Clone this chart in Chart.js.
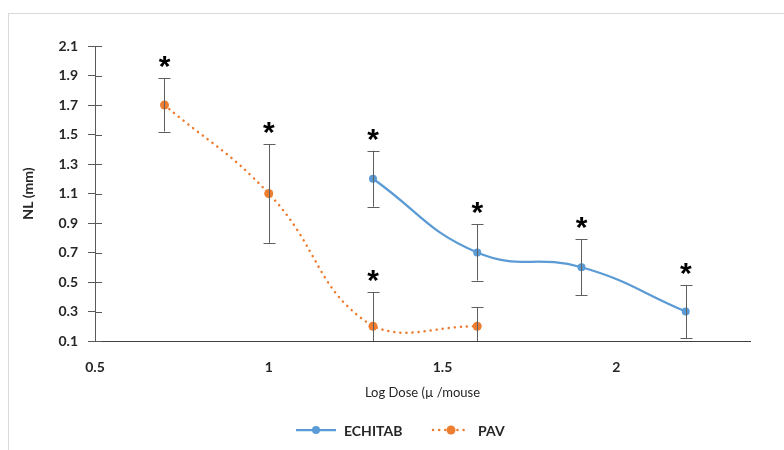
<!DOCTYPE html>
<html>
<head>
<meta charset="utf-8">
<script src="https://cdn.jsdelivr.net/npm/chart.js@4.4.1/dist/chart.umd.min.js"></script>
<style>
  html, body { margin: 0; padding: 0; background: #fff; }
  #wrap { position: relative; width: 784px; height: 450px; overflow: hidden; }
  #frame { position: absolute; left: 8px; top: 13px; width: 820px; height: 500px; border: 1px solid #d9d9d9; }
  canvas { position: absolute; left: 0; top: 0; }
</style>
</head>
<body>
<div id="wrap">
  <div id="frame"></div>
  <canvas id="c" width="784" height="450"></canvas>
</div>
<script>
// ---- data ----
const seriesNames = ["ECHITAB", "PAV"];
const echX = [1.3, 1.6, 1.9, 2.2];
const echY = [1.2, 0.7, 0.6, 0.3];
const echErr = [0.19, 0.19, 0.19, 0.18];
const echSig = [true, true, true, true];
const pavX = [0.7, 1.0, 1.3, 1.6];
const pavY = [1.7, 1.1, 0.2, 0.2];
const pavErr = [0.18, 0.335, 0.23, 0.13];
const pavSig = [true, true, true, false];
const xTicks = [0.5, 1, 1.5, 2];
const xTickLabels = ["0.5", "1", "1.5", "2"];
const yTicks = [0.1, 0.3, 0.5, 0.7, 0.9, 1.1, 1.3, 1.5, 1.7, 1.9, 2.1];
const yTickLabels = ["0.1", "0.3", "0.5", "0.7", "0.9", "1.1", "1.3", "1.5", "1.7", "1.9", "2.1"];
const xTitle = "Log Dose (µ /mouse";
const yTitle = "NL (mm)";

const BLUE = "#5B9BD5";
const ORANGE = "#ED7D31";
const FONT = "Lato, 'Open Sans', sans-serif";

const toPts = (xs, ys) => xs.map((x, i) => ({ x: x, y: ys[i] }));

const errPlugin = {
  id: "errbars",
  afterDatasetsDraw(chart) {
    const ctx = chart.ctx;
    const xs = chart.scales.x, ys = chart.scales.y;
    const area = chart.chartArea;
    const sets = [[echX, echY, echErr, echSig], [pavX, pavY, pavErr, pavSig]];
    ctx.save();
    ctx.beginPath();
    ctx.rect(area.left, area.top - 60, area.right - area.left, area.bottom - area.top + 60);
    ctx.clip();
    ctx.strokeStyle = "#5f5f5f";
    ctx.lineWidth = 1;
    sets.forEach(([X, Y, E]) => {
      X.forEach((xv, i) => {
        const px = Math.round(xs.getPixelForValue(xv)) + 0.5;
        const top = ys.getPixelForValue(Y[i] + E[i]);
        const botv = Y[i] - E[i];
        const bot = ys.getPixelForValue(Math.max(botv, 0.1));
        ctx.beginPath();
        ctx.moveTo(px, top);
        ctx.lineTo(px, bot);
        ctx.moveTo(px - 6, Math.round(top) + 0.5);
        ctx.lineTo(px + 6, Math.round(top) + 0.5);
        if (botv > 0.1) {
          ctx.moveTo(px - 6, Math.round(bot) + 0.5);
          ctx.lineTo(px + 6, Math.round(bot) + 0.5);
        }
        ctx.stroke();
      });
    });
    ctx.restore();
    // asterisks
    ctx.save();
    ctx.fillStyle = "#000";
    ctx.font = "bold 30px 'Liberation Sans', sans-serif";
    ctx.textAlign = "center";
    ctx.textBaseline = "alphabetic";
    sets.forEach(([X, Y, E, S]) => {
      X.forEach((xv, i) => {
        if (!S[i]) return;
        const px = xs.getPixelForValue(xv);
        const top = ys.getPixelForValue(Y[i] + E[i]);
        ctx.fillText("*", px, top - 2);
      });
    });
    ctx.restore();
    // inner tick marks on y axis (cross ticks)
    ctx.save();
    ctx.strokeStyle = "#595959";
    ctx.lineWidth = 1;
    ctx.beginPath();
    yTicks.forEach(v => {
      const py = Math.round(ys.getPixelForValue(v)) + 0.5;
      ctx.moveTo(area.left, py);
      ctx.lineTo(area.left + 7, py);
    });
    ctx.stroke();
    ctx.restore();
    // legend
    ctx.save();
    const ly = 430;
    ctx.lineWidth = 2.25;
    ctx.strokeStyle = BLUE;
    ctx.beginPath(); ctx.moveTo(296, ly); ctx.lineTo(336, ly); ctx.stroke();
    ctx.fillStyle = BLUE;
    ctx.beginPath(); ctx.arc(316, ly, 4, 0, Math.PI * 2); ctx.fill();
    ctx.strokeStyle = ORANGE;
    ctx.lineCap = "round";
    ctx.lineWidth = 2.5;
    ctx.setLineDash([0.1, 6]);
    ctx.beginPath(); ctx.moveTo(433, ly); ctx.lineTo(469, ly); ctx.stroke();
    ctx.setLineDash([]);
    ctx.fillStyle = ORANGE;
    ctx.beginPath(); ctx.arc(451, ly, 4.5, 0, Math.PI * 2); ctx.fill();
    ctx.fillStyle = "#262626";
    ctx.font = "bold 14px " + FONT;
    ctx.textAlign = "left";
    ctx.textBaseline = "middle";
    ctx.fillText(seriesNames[0], 344, ly + 1);
    ctx.fillText(seriesNames[1], 478, ly + 1);
    ctx.restore();
  }
};

new Chart(document.getElementById("c"), {
  type: "line",
  data: {
    datasets: [
      {
        label: seriesNames[0],
        data: toPts(echX, echY),
        borderColor: BLUE,
        backgroundColor: BLUE,
        borderWidth: 2.25,
        pointRadius: 4,
        pointHoverRadius: 4,
        pointBorderWidth: 0,
        tension: 0.45,
        fill: false
      },
      {
        label: seriesNames[1],
        data: toPts(pavX, pavY),
        borderColor: ORANGE,
        backgroundColor: ORANGE,
        borderWidth: 2.5,
        borderDash: [0.1, 6],
        borderCapStyle: "round",
        pointRadius: 4.5,
        pointHoverRadius: 4.5,
        pointBorderWidth: 0,
        tension: 0.45,
        fill: false
      }
    ]
  },
  options: {
    responsive: false,
    animation: false,
    events: [],
    layout: { padding: { left: 20, right: 34, top: 46, bottom: 39 } },
    plugins: { legend: { display: false }, tooltip: { enabled: false } },
    scales: {
      x: {
        type: "linear",
        min: 0.5,
        max: 2.385,
        afterBuildTicks: s => { s.ticks = xTicks.map(v => ({ value: v })); },
        afterFit: s => { s.height = 70; },
        grid: { display: false, drawTicks: false },
        border: { display: true, color: "#404040", width: 1 },
        ticks: {
          padding: 18,
          color: "#262626",
          font: { family: FONT, size: 14, weight: "bold" },
          callback: (v) => { const i = xTicks.indexOf(v); return i >= 0 ? xTickLabels[i] : ""; }
        },
        title: {
          display: true,
          text: xTitle,
          color: "#262626",
          font: { family: FONT, size: 13 },
          padding: { top: 2, bottom: 10 }
        }
      },
      y: {
        type: "linear",
        min: 0.1,
        max: 2.1,
        afterBuildTicks: s => { s.ticks = yTicks.map(v => ({ value: v })); },
        afterFit: s => { s.width = 75; },
        grid: { display: true, drawOnChartArea: false, drawTicks: true, tickLength: 7, color: "#595959" },
        border: { display: true, color: "#595959", width: 1 },
        ticks: {
          padding: 10,
          color: "#262626",
          font: { family: FONT, size: 14, weight: "bold" },
          callback: (v) => { const i = yTicks.findIndex(t => Math.abs(t - v) < 1e-9); return i >= 0 ? yTickLabels[i] : ""; }
        },
        title: {
          display: true,
          text: yTitle,
          color: "#262626",
          font: { family: FONT, size: 14, weight: "bold" },
          padding: { top: 0, bottom: 0 }
        }
      }
    }
  },
  plugins: [errPlugin]
});
</script>
</body>
</html>
